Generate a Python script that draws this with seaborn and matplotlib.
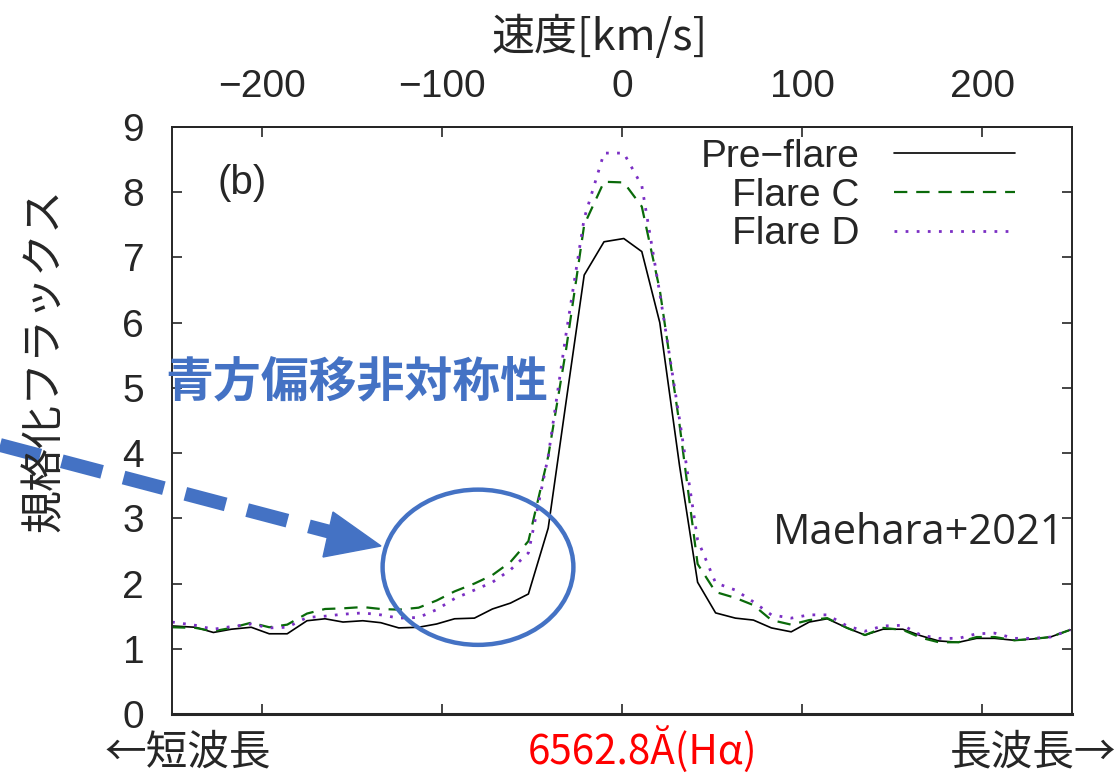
import numpy as np
import pandas as pd
import matplotlib
matplotlib.use("Agg")
import matplotlib.pyplot as plt
import seaborn as sns
from matplotlib.patches import Ellipse, Polygon
from matplotlib.lines import Line2D

# ---- data (velocity in km/s, normalized flux) ----
velocity = [-250, -237, -227, -217, -206, -196, -186, -175, -165, -155,
            -144, -134, -124, -113, -103, -93, -82, -72, -62, -52,
            -41, -31, -21, -10, 1, 11, 21, 32, 42, 52,
            63, 73, 83, 94, 104, 114, 125, 135, 145, 156,
            166, 176, 187, 197, 207, 218, 228, 238, 249]

pre_flare = [1.35, 1.33, 1.25, 1.30, 1.33, 1.23, 1.23, 1.43, 1.46, 1.41,
             1.43, 1.40, 1.32, 1.33, 1.38, 1.46, 1.47, 1.61, 1.70, 1.84,
             2.85, 4.80, 6.73, 7.24, 7.29, 7.09, 6.00, 3.80, 2.02, 1.55,
             1.47, 1.44, 1.32, 1.26, 1.41, 1.46, 1.32, 1.21, 1.30, 1.30,
             1.20, 1.12, 1.10, 1.16, 1.16, 1.13, 1.15, 1.18, 1.29]

flare_c = [1.33, 1.32, 1.27, 1.32, 1.40, 1.33, 1.37, 1.54, 1.61, 1.62,
           1.64, 1.61, 1.60, 1.63, 1.74, 1.88, 2.00, 2.13, 2.33, 2.65,
           3.95, 5.60, 7.50, 8.16, 8.15, 7.78, 6.50, 4.43, 2.30, 1.87,
           1.78, 1.67, 1.44, 1.37, 1.44, 1.47, 1.32, 1.21, 1.32, 1.29,
           1.17, 1.10, 1.10, 1.18, 1.18, 1.13, 1.15, 1.18, 1.29]

flare_d = [1.41, 1.36, 1.30, 1.34, 1.38, 1.32, 1.33, 1.48, 1.50, 1.53,
           1.55, 1.52, 1.47, 1.48, 1.60, 1.77, 1.90, 2.02, 2.21, 2.47,
           3.95, 5.84, 7.60, 8.60, 8.60, 8.10, 6.45, 4.51, 2.67, 2.01,
           1.90, 1.72, 1.52, 1.47, 1.52, 1.52, 1.35, 1.27, 1.35, 1.36,
           1.21, 1.16, 1.16, 1.23, 1.24, 1.16, 1.16, 1.18, 1.29]

series_names = ["Pre\u2212flare", "Flare C", "Flare D"]
x_ticks = [-200, -100, 0, 100, 200]
y_ticks = [0, 1, 2, 3, 4, 5, 6, 7, 8, 9]

# ---- style ----
sns.set_theme(style="ticks")
plt.rcParams['font.family'] = ['Liberation Sans', 'Noto Sans CJK JP', 'DejaVu Sans']
plt.rcParams['axes.linewidth'] = 1.4

W, H = 1118, 775
fig = plt.figure(figsize=(W / 100, H / 100), dpi=100)
ax = fig.add_axes([172 / W, (H - 714) / H, 900 / W, 587 / H])

df = pd.DataFrame({"v": velocity, "pre": pre_flare, "c": flare_c, "d": flare_d})
sns.lineplot(data=df, x="v", y="pre", ax=ax, color="black", lw=1.2,
             label=series_names[0])
sns.lineplot(data=df, x="v", y="c", ax=ax, color="#0a6a0a", lw=1.6,
             linestyle=(0, (6, 4)), label=series_names[1])
sns.lineplot(data=df, x="v", y="d", ax=ax, color="#7b2fc4", lw=2.0,
             linestyle=(0, (1, 3)), label=series_names[2])

ax.set_xlim(-250, 250)
ax.set_ylim(0, 9)
ax.set_xlabel("")
ax.set_ylabel("")
ax.set_xticks(x_ticks)
ax.set_yticks(y_ticks)
ax.tick_params(axis='x', direction='in', length=7, width=1.2, labelbottom=False)
ax.tick_params(axis='y', direction='in', length=7, width=1.2, right=True,
               labelsize=28, pad=20)
ax.spines['bottom'].set_linewidth(2.2)

top = ax.secondary_xaxis('top')
top.set_xticks(x_ticks)
top.tick_params(direction='in', length=7, width=1.2, labelsize=28, pad=16)

leg = ax.legend(loc='upper right', bbox_to_anchor=((1015 - 172) / 900, (714 - 139) / 587),
                markerfirst=False, frameon=False, fontsize=28, handlelength=3.1,
                handletextpad=0.9, labelspacing=0.07, borderpad=0, borderaxespad=0)

ax.text(0.05, 0.905, "(b)", transform=ax.transAxes, fontsize=29, va='center', ha='left')
ax.text(0.992, 0.308, "Maehara+2021", transform=ax.transAxes, fontsize=30,
        family=['Open Sans'], va='center', ha='right')

# ---- annotations ----
blue = "#4472C4"
ell = Ellipse(xy=(-80, 2.25), width=106, height=2.38, fill=False,
              edgecolor=blue, lw=3.2, zorder=5)
ax.add_patch(ell)

def fx(px):
    return px / W

def fy(py):
    return (H - py) / H

# dashed arrow shaft
shaft = Line2D([fx(0), fx(338)], [fy(445), fy(534)], transform=fig.transFigure,
               color=blue, lw=10, dashes=(3.0, 1.6), dash_capstyle='butt',
               solid_capstyle='butt')
fig.add_artist(shaft)
head = Polygon([[fx(333), fy(512)], [fx(381), fy(546)], [fx(323), fy(557)]],
               closed=True, transform=fig.transFigure, facecolor=blue,
               edgecolor=blue)
fig.add_artist(head)

fig.text(fx(165), fy(382), "青方偏移非対称性", color=blue, fontsize=34.5,
         fontweight='bold', family=['Noto Sans CJK JP'], va='center', ha='left')

fig.text(fx(600), fy(38), "速度[km/s]", fontsize=31,
         family=['Noto Sans CJK JP', 'DejaVu Sans'], va='center', ha='center')
fig.text(fx(45), fy(360), "規格化フラックス", fontsize=31, rotation=90,
         family=['Noto Sans CJK JP'], va='center', ha='center')
fig.text(fx(105), fy(774), "←短波長", fontsize=30,
         family=['Noto Sans CJK JP', 'DejaVu Sans'], va='bottom', ha='left')
fig.text(fx(1116), fy(774), "長波長→", fontsize=30,
         family=['Noto Sans CJK JP', 'DejaVu Sans'], va='bottom', ha='right')
fig.text(fx(643), fy(774), "6562.8Ă(Hα)", fontsize=29, color='red',
         family=['Noto Sans CJK JP', 'DejaVu Sans'], va='bottom', ha='center')

fig.savefig("out.png", dpi=100)
